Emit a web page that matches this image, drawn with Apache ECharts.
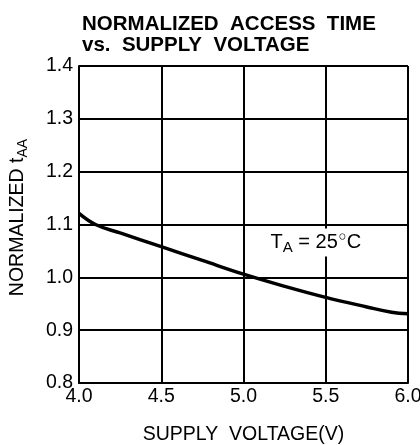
<!DOCTYPE html>
<html><head><meta charset="utf-8">
<script src="https://cdn.jsdelivr.net/npm/echarts@6/dist/echarts.min.js"></script>
<style>html,body{margin:0;padding:0;background:#fff}#c{width:420px;height:445px}</style>
</head><body><div id="c"></div>
<script>
const voltage = [4.0, 4.1, 4.25, 4.5, 4.75, 5.0, 5.25, 5.5, 5.75, 5.9, 6.0];
const normTaa = [1.121, 1.100, 1.084, 1.058, 1.032, 1.006, 0.983, 0.962, 0.944, 0.934, 0.931];
const xTicks = [4.0, 4.5, 5.0, 5.5, 6.0];
const yTicks = [0.8, 0.9, 1.0, 1.1, 1.2, 1.3, 1.4];
const annotation = { x: 5.44, y: 1.066 };

const chart = echarts.init(document.getElementById('c'));
const font = 'Liberation Sans, Arial, sans-serif';
chart.setOption({
  animation: false,
  title: {
    text: 'NORMALIZED  ACCESS  TIME\nvs.  SUPPLY  VOLTAGE',
    left: 77, top: 9,
    textStyle: { fontFamily: font, fontSize: 20.5, fontWeight: 'bold', color: '#000', lineHeight: 21 }
  },
  grid: { left: 79, right: 12, top: 66, bottom: 62, outerBoundsMode: 'none', containLabel: false },
  xAxis: {
    type: 'value', min: xTicks[0], max: xTicks[xTicks.length - 1], interval: 0.5,
    name: 'SUPPLY  VOLTAGE(V)', nameLocation: 'middle', nameGap: 42,
    nameTextStyle: { fontFamily: font, fontSize: 19.5, color: '#000' },
    axisLine: { show: true, lineStyle: { color: '#000', width: 2 } },
    axisTick: { show: false },
    splitLine: { show: true, lineStyle: { color: '#000', width: 2 } },
    axisLabel: { fontFamily: font, fontSize: 19.5, color: '#000', margin: 4, formatter: v => v.toFixed(1) }
  },
  yAxis: {
    type: 'value', min: yTicks[0], max: yTicks[yTicks.length - 1], interval: 0.1,
    name: '{a|NORMALIZED t}{s|AA}', nameLocation: 'middle', nameGap: 49, nameRotate: 90,
    nameTextStyle: {
      padding: [0, 0, 0, 14],
      rich: {
        a: { fontFamily: font, fontSize: 19.5, color: '#000' },
        s: { fontFamily: font, fontSize: 14, color: '#000', padding: [10, 0, 0, 0] }
      }
    },
    axisLine: { show: true, lineStyle: { color: '#000', width: 2 } },
    axisTick: { show: false },
    splitLine: { show: true, lineStyle: { color: '#000', width: 2 } },
    axisLabel: { fontFamily: font, fontSize: 19.5, color: '#000', margin: 6, formatter: v => v.toFixed(1) }
  },
  series: [{
    type: 'line', smooth: 0.4, showSymbol: false, symbol: 'none',
    data: voltage.map((v, i) => [v, normTaa[i]]),
    lineStyle: { color: '#000', width: 3.5 },
    markPoint: {
      symbol: 'circle', symbolSize: 0,
      data: [{ coord: [annotation.x, annotation.y] }],
      label: {
        show: true, position: 'inside',
        formatter: '{a|T}{s|A}{a| = 25}{d|◦}{a|C}',
        backgroundColor: '#fff', padding: [0, 2, 0, 2],
        rich: {
          a: { fontFamily: font, fontSize: 20, color: '#000', lineHeight: 26 },
          d: { fontFamily: 'DejaVu Sans', fontSize: 20, color: '#000', width: 9, padding: [0, 0, 8, 0] },
          s: { fontFamily: font, fontSize: 15, color: '#000', padding: [10, 0, 0, 0] }
        }
      }
    }
  }]
});
</script></body></html>
